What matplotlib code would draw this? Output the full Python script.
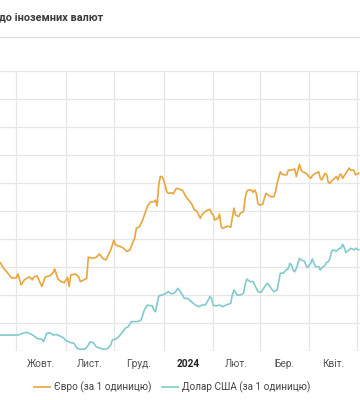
import matplotlib
matplotlib.use('Agg')
import matplotlib.pyplot as plt
import pandas as pd
from matplotlib.lines import Line2D

plt.rcParams['font.family'] = ['Roboto', 'DejaVu Sans']

title = 'до іноземних валют'
legend_labels = ['Євро (за 1 одиницю)', 'Долар США (за 1 одиницю)']
month_labels = ['Вер.', 'Жовт.', 'Лист.', 'Груд.', '2024', 'Лют.', 'Бер.', 'Квіт.']
month_starts = ['2023-09-01', '2023-10-01', '2023-11-01', '2023-12-01', '2024-01-01',
                '2024-02-01', '2024-03-01', '2024-04-01', '2024-05-01']
y_grid = [36, 37, 38, 39, 40, 41, 42, 43, 44, 45, 46]

# EUR/UAH official rate
eur_dates = ['2023-09-21', '2023-09-23', '2023-09-25', '2023-09-28', '2023-10-01', '2023-10-02',
             '2023-10-04', '2023-10-06', '2023-10-09', '2023-10-11', '2023-10-12', '2023-10-14',
             '2023-10-17', '2023-10-19', '2023-10-22', '2023-10-24', '2023-10-25', '2023-10-27',
             '2023-10-29', '2023-10-31', '2023-11-02', '2023-11-03', '2023-11-04', '2023-11-07',
             '2023-11-09', '2023-11-10', '2023-11-13', '2023-11-14', '2023-11-15', '2023-11-18',
             '2023-11-20', '2023-11-22', '2023-11-24', '2023-11-26', '2023-11-29', '2023-12-01',
             '2023-12-02', '2023-12-05', '2023-12-07', '2023-12-09', '2023-12-11', '2023-12-13',
             '2023-12-14', '2023-12-15', '2023-12-17', '2023-12-19', '2023-12-22', '2023-12-24',
             '2023-12-26', '2023-12-27', '2023-12-28', '2023-12-29', '2023-12-30', '2023-12-31',
             '2024-01-01', '2024-01-02', '2024-01-03', '2024-01-04', '2024-01-06', '2024-01-07',
             '2024-01-09', '2024-01-11', '2024-01-13', '2024-01-15', '2024-01-18', '2024-01-19',
             '2024-01-20', '2024-01-22', '2024-01-24', '2024-01-25', '2024-01-27', '2024-01-29',
             '2024-01-30', '2024-01-31', '2024-02-01', '2024-02-02', '2024-02-04', '2024-02-05',
             '2024-02-06', '2024-02-07', '2024-02-10', '2024-02-12', '2024-02-14', '2024-02-15',
             '2024-02-17', '2024-02-18', '2024-02-20', '2024-02-21', '2024-02-22', '2024-02-23',
             '2024-02-25', '2024-02-26', '2024-02-27', '2024-02-28', '2024-02-29', '2024-03-01',
             '2024-03-03', '2024-03-04', '2024-03-05', '2024-03-08', '2024-03-10', '2024-03-11',
             '2024-03-12', '2024-03-14', '2024-03-15', '2024-03-17', '2024-03-18', '2024-03-19',
             '2024-03-21', '2024-03-23', '2024-03-24', '2024-03-25', '2024-03-26', '2024-03-27',
             '2024-03-28', '2024-03-30', '2024-04-02', '2024-04-03', '2024-04-05', '2024-04-07',
             '2024-04-08', '2024-04-09', '2024-04-11', '2024-04-12', '2024-04-13', '2024-04-14',
             '2024-04-15', '2024-04-17', '2024-04-18', '2024-04-19', '2024-04-20', '2024-04-21',
             '2024-04-22', '2024-04-24', '2024-04-26', '2024-04-27', '2024-04-29', '2024-04-30',
             '2024-05-02']
eur_rates = [39.15, 38.96, 38.83, 38.61, 38.61, 38.75,
             38.36, 38.54, 38.65, 38.54, 38.65, 38.68,
             38.30, 38.64, 38.69, 38.80, 38.93, 38.57,
             38.48, 38.44, 38.63, 38.30, 38.71, 38.75,
             38.65, 38.48, 38.56, 38.60, 39.35, 39.31,
             39.35, 39.46, 39.31, 39.25, 39.61, 39.96,
             39.79, 39.73, 39.67, 39.55, 39.61, 39.90,
             40.03, 40.38, 40.44, 40.68, 41.18, 41.33,
             41.33, 41.39, 41.18, 41.93, 42.23, 42.23,
             42.11, 41.93, 41.69, 41.63, 41.65, 41.61,
             41.81, 41.78, 41.73, 41.51, 41.30, 41.21,
             41.06, 40.98, 40.74, 40.86, 40.98, 41.04,
             41.06, 40.92, 40.86, 40.68, 40.74, 40.89,
             40.44, 40.38, 40.46, 40.42, 41.10, 40.86,
             40.80, 40.92, 40.98, 41.45, 41.69, 41.75,
             41.75, 41.67, 41.75, 41.63, 41.27, 41.21,
             41.24, 41.45, 41.63, 41.51, 41.51, 41.69,
             41.99, 42.40, 42.31, 42.29, 42.29, 42.46,
             42.46, 42.50, 42.23, 42.46, 42.67, 42.46,
             42.40, 42.35, 42.17, 42.26, 42.35, 42.40,
             42.17, 42.11, 42.35, 42.29, 42.02, 41.99,
             42.07, 42.17, 42.23, 42.11, 42.29, 42.31,
             42.17, 42.35, 42.53, 42.46, 42.46, 42.29,
             42.35]

# USD/UAH official rate
usd_dates = ['2023-09-21', '2023-10-02', '2023-10-05', '2023-10-07', '2023-10-10', '2023-10-12',
             '2023-10-14', '2023-10-17', '2023-10-18', '2023-10-20', '2023-10-22', '2023-10-24',
             '2023-10-26', '2023-10-28', '2023-10-30', '2023-11-01', '2023-11-04', '2023-11-06',
             '2023-11-08', '2023-11-10', '2023-11-13', '2023-11-15', '2023-11-16', '2023-11-18',
             '2023-11-20', '2023-11-22', '2023-11-25', '2023-11-27', '2023-11-29', '2023-11-30',
             '2023-12-02', '2023-12-04', '2023-12-06', '2023-12-07', '2023-12-08', '2023-12-10',
             '2023-12-12', '2023-12-14', '2023-12-16', '2023-12-18', '2023-12-20', '2023-12-22',
             '2023-12-25', '2023-12-26', '2023-12-27', '2023-12-28', '2023-12-29', '2023-12-31',
             '2024-01-02', '2024-01-04', '2024-01-06', '2024-01-08', '2024-01-10', '2024-01-12',
             '2024-01-14', '2024-01-16', '2024-01-19', '2024-01-21', '2024-01-23', '2024-01-25',
             '2024-01-27', '2024-01-29', '2024-01-30', '2024-01-31', '2024-02-01', '2024-02-03',
             '2024-02-05', '2024-02-07', '2024-02-09', '2024-02-12', '2024-02-13', '2024-02-14',
             '2024-02-16', '2024-02-18', '2024-02-20', '2024-02-21', '2024-02-22', '2024-02-24',
             '2024-02-26', '2024-02-27', '2024-02-29', '2024-03-02', '2024-03-05', '2024-03-06',
             '2024-03-09', '2024-03-10', '2024-03-12', '2024-03-13', '2024-03-14', '2024-03-16',
             '2024-03-17', '2024-03-19', '2024-03-20', '2024-03-21', '2024-03-22', '2024-03-23',
             '2024-03-24', '2024-03-25', '2024-03-26', '2024-03-27', '2024-03-29', '2024-03-30',
             '2024-03-31', '2024-04-02', '2024-04-03', '2024-04-04', '2024-04-05', '2024-04-07',
             '2024-04-08', '2024-04-09', '2024-04-10', '2024-04-11', '2024-04-12', '2024-04-13',
             '2024-04-14', '2024-04-15', '2024-04-16', '2024-04-18', '2024-04-20', '2024-04-21',
             '2024-04-22', '2024-04-23', '2024-04-24', '2024-04-26', '2024-04-27', '2024-04-29',
             '2024-04-30', '2024-05-02']
usd_rates = [36.57, 36.57, 36.63, 36.67, 36.61, 36.54,
             36.45, 36.42, 36.33, 36.63, 36.65, 36.57,
             36.59, 36.54, 36.49, 36.37, 36.30, 36.28,
             36.10, 36.06, 36.07, 36.21, 36.32, 36.30,
             36.15, 36.10, 36.06, 36.09, 36.21, 36.39,
             36.42, 36.51, 36.65, 36.72, 36.81, 36.87,
             37.05, 37.05, 37.05, 37.11, 37.46, 37.64,
             37.61, 37.46, 37.40, 37.70, 37.96, 38.00,
             38.04, 38.12, 38.04, 38.08, 38.24, 38.08,
             37.88, 37.88, 37.73, 37.64, 37.58, 37.64,
             37.64, 37.82, 37.94, 37.88, 37.64, 37.61,
             37.64, 37.58, 37.64, 37.70, 38.00, 38.18,
             38.00, 38.00, 38.06, 38.36, 38.57, 38.48,
             38.48, 38.36, 38.12, 38.10, 38.36, 38.42,
             38.18, 38.12, 38.18, 38.48, 38.78, 38.78,
             38.86, 38.95, 39.13, 39.07, 38.89, 38.83,
             38.95, 39.13, 39.31, 39.25, 39.21, 39.07,
             38.98, 39.13, 39.29, 39.13, 39.01, 39.01,
             38.89, 38.98, 39.01, 39.07, 39.17, 39.19,
             39.31, 39.55, 39.61, 39.57, 39.67, 39.67,
             39.81, 39.69, 39.52, 39.61, 39.67, 39.61,
             39.67, 39.61]

eur_color = '#e9a63c'
usd_color = '#82cacc'

fig = plt.figure(figsize=(3.6, 4.0), dpi=100)
ax = fig.add_axes([0, 49 / 400, 1, 280 / 400])

starts = pd.to_datetime(month_starts)
mids = starts[:-1] + (starts[1:] - starts[:-1]) / 2

ax.plot(pd.to_datetime(eur_dates), eur_rates, color=eur_color, lw=1.2, label=legend_labels[0])
ax.plot(pd.to_datetime(usd_dates), usd_rates, color=usd_color, lw=1.2, label=legend_labels[1])

ax.set_yticks(y_grid)
ax.set_xticks(starts)
ax.set_xticklabels([])
ax.set_xticks(mids, month_labels, minor=True)
ax.tick_params(axis='both', which='both', length=0, labelleft=False)
ax.tick_params(axis='x', which='minor', pad=6, labelsize=7.3, labelcolor='#555555')
for lbl in ax.get_xticklabels(minor=True):
    if lbl.get_text() == '2024':
        lbl.set_fontweight('bold')
        lbl.set_color('#222222')

# limits after the ticks, set_xticks would widen them
x0 = pd.Timestamp('2023-10-01')
ax.set_xlim(x0 - pd.Timedelta(days=10.2), x0 + pd.Timedelta(days=214.8))
ax.set_ylim(y_grid[0], y_grid[-1])

ax.grid(which='major', color='#e6e6e6', lw=0.9)
ax.set_axisbelow(True)
for s in ax.spines.values():
    s.set_visible(False)

# header
fig.text(-1 / 360, 1 - 17 / 400, title, ha='left', va='center', fontsize=7.8,
         fontweight='bold', color='#3a3a3a')
fig.add_artist(Line2D([0, 1], [1 - 37 / 400] * 2, color='#dddddd', lw=1,
                      transform=fig.transFigure))

handles = [Line2D([], [], color=eur_color, lw=1.2), Line2D([], [], color=usd_color, lw=1.2)]
fig.legend(handles, legend_labels, loc='center', bbox_to_anchor=(172 / 360, 1 - 387 / 400),
           ncol=2, frameon=False, fontsize=7.2, handlelength=1.6, handletextpad=0.4,
           columnspacing=1.0, labelcolor='#444444', borderaxespad=0)

fig.savefig('out.png', dpi=100)
